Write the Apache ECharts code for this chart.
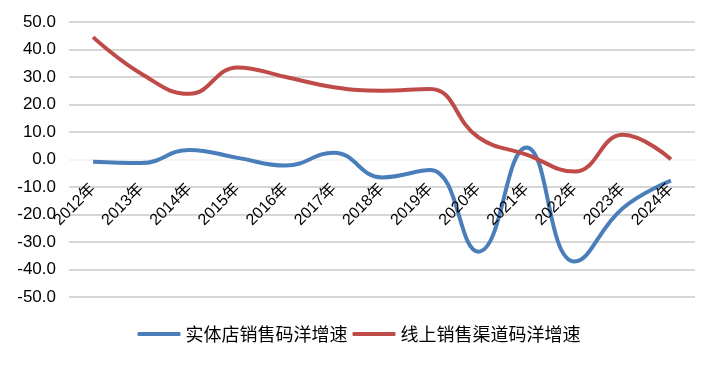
<!DOCTYPE html>
<html>
<head>
<meta charset="utf-8">
<script src="https://cdn.jsdelivr.net/npm/echarts@6/dist/echarts.min.js"></script>
<style>html,body{margin:0;padding:0;background:#fff}#c{width:718px;height:366px}</style>
</head>
<body>
<div id="c"></div>
<script>
const categories = ['2012年','2013年','2014年','2015年','2016年','2017年','2018年','2019年','2020年','2021年','2022年','2023年','2024年'];
const storeGrowth = [-0.8, -1.3, 3.5, 0.6, -2.2, 2.5, -6.5, -3.8, -33.5, 4.4, -37.1, -17.7, -7.7];
const onlineGrowth = [44.5, 31.2, 23.9, 33.5, 30.0, 26.3, 25.0, 25.6, 8.1, 1.8, -4.4, 9.0, 0.1];
const seriesNames = ['实体店销售码洋增速', '线上销售渠道码洋增速'];
const yMin = -50, yMax = 50, yStep = 10;

const W = 718, H = 366;
const gTop = 22, gBottom = 69, gLeft = 69, gRight = 23;
const plotH = H - gTop - gBottom;
const zeroFromTop = gTop + plotH * (yMax - 0) / (yMax - yMin);

const gridColors = [];
for (let v = yMin; v <= yMax; v += yStep) gridColors.push(v === 0 ? '#f0f0f0' : '#c8c8c8');

const chart = echarts.init(document.getElementById('c'));
const font = '"Liberation Sans", Arial, "Noto Sans CJK SC", sans-serif';
chart.setOption({
  animation: false,
  backgroundColor: '#fff',
  grid: [
    { left: gLeft, right: gRight, top: gTop, bottom: gBottom },
    { left: gLeft, right: gRight, top: gTop, bottom: H - zeroFromTop }
  ],
  legend: {
    data: seriesNames,
    bottom: 18,
    left: 'center',
    icon: 'roundRect',
    itemWidth: 43,
    itemHeight: 4,
    itemGap: 5,
    textStyle: { fontSize: 18, color: '#000', fontFamily: '"Noto Sans CJK SC", sans-serif' }
  },
  xAxis: [
    {
      type: 'category', gridIndex: 0,
      data: categories,
      boundaryGap: true,
      axisLine: { show: false },
      axisTick: { show: false },
      axisLabel: { show: false }
    },
    {
      type: 'category', gridIndex: 1, z: 5,
      data: categories,
      boundaryGap: true,
      axisLine: { show: false },
      axisTick: { show: false },
      splitLine: { show: false },
      axisLabel: { rotate: 45, fontSize: 16, color: '#000', margin: 27, fontFamily: font, interval: 0 }
    }
  ],
  yAxis: [
    {
      type: 'value', gridIndex: 0,
      min: yMin, max: yMax, interval: yStep,
      axisLine: { show: false },
      axisTick: { show: false },
      axisLabel: { fontSize: 17, color: '#000', margin: 13, fontFamily: font, formatter: v => v.toFixed(1) },
      splitLine: { lineStyle: { color: gridColors, width: 1.5 } }
    },
    {
      type: 'value', gridIndex: 1, min: 0, max: 1, show: false, splitLine: { show: false }
    }
  ],
  series: [
    { name: seriesNames[0], type: 'line', data: storeGrowth, smooth: 0.45, showSymbol: false,
      lineStyle: { color: '#4a7ebb', width: 4 }, itemStyle: { color: '#4a7ebb' } },
    { name: seriesNames[1], type: 'line', data: onlineGrowth, smooth: 0.45, showSymbol: false,
      lineStyle: { color: '#be4b48', width: 4 }, itemStyle: { color: '#be4b48' } }
  ]
});
</script>
</body>
</html>
